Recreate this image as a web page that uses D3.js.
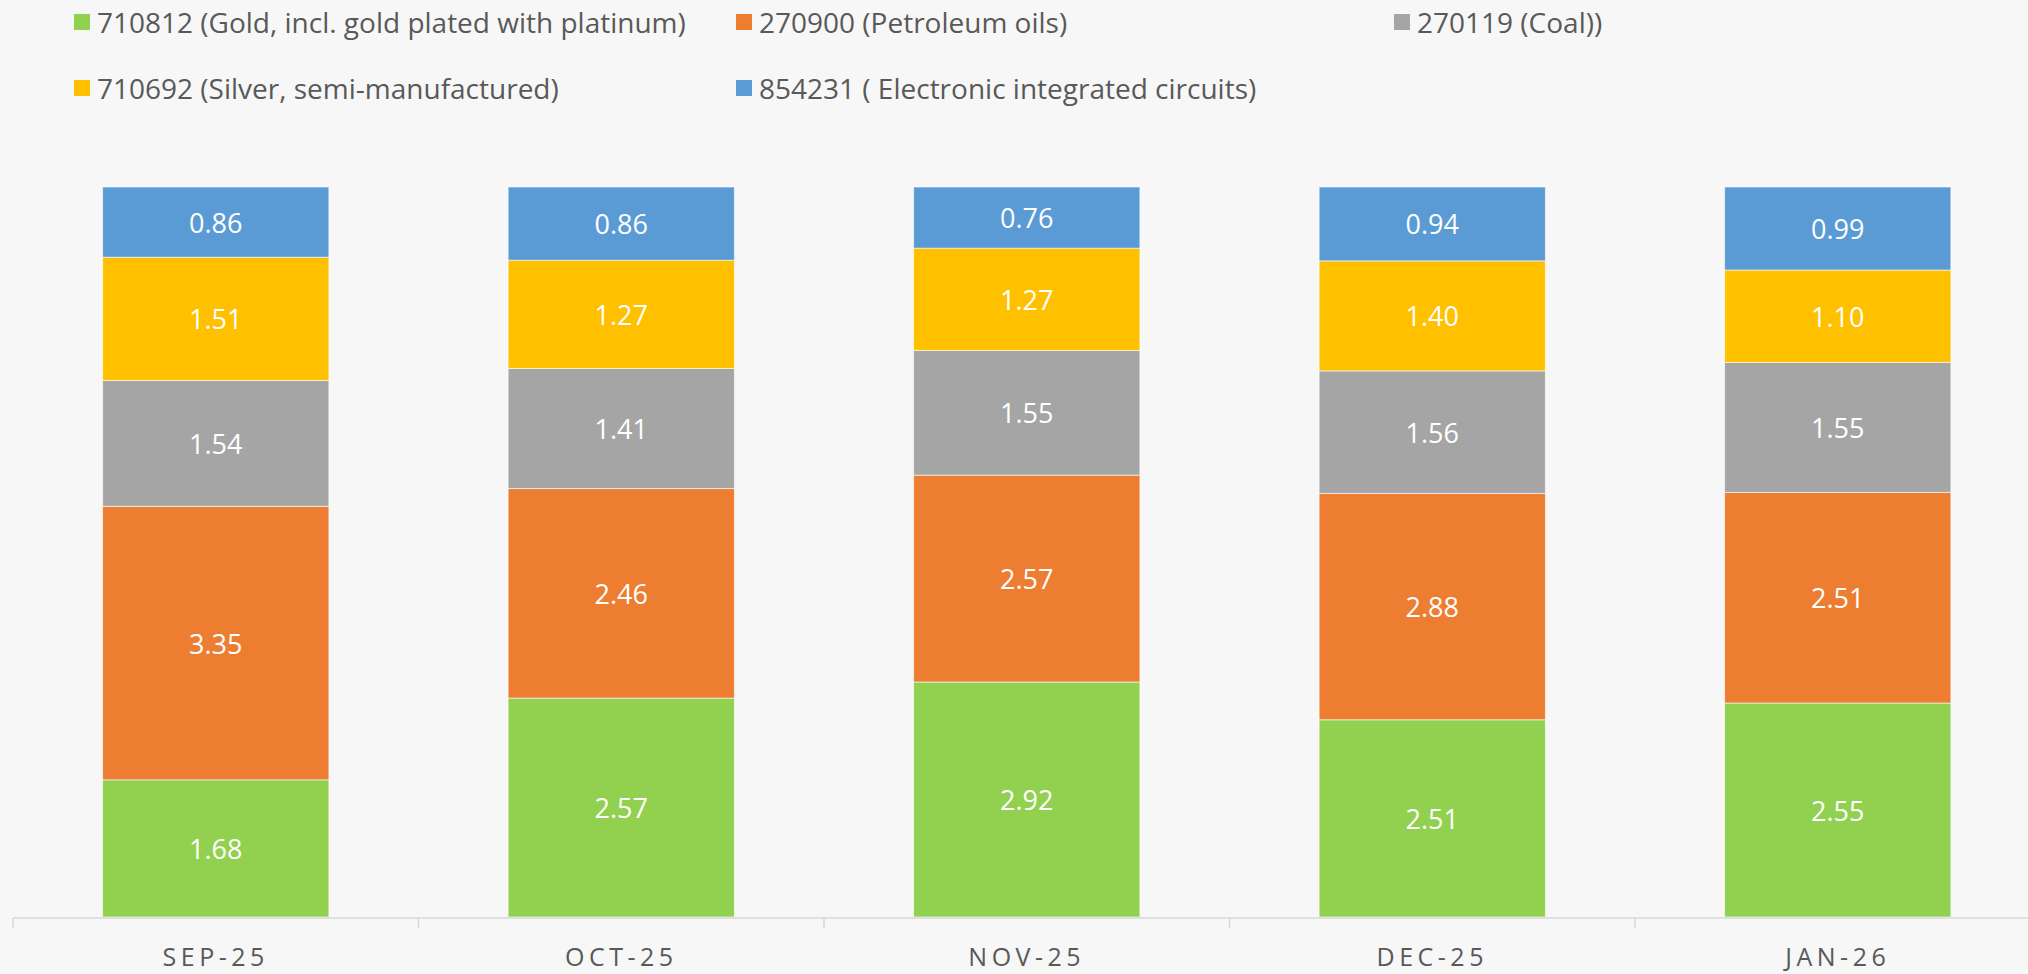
<!DOCTYPE html>
<html>
<head>
<meta charset="utf-8">
<script src="https://cdn.jsdelivr.net/npm/d3@7"></script>
<style>
  html, body { margin: 0; padding: 0; background: #f7f7f7; }
  svg { display: block; }
</style>
</head>
<body>
<svg width="2028" height="974"></svg>
<script>
// categories and series
const months = ['SEP-25', 'OCT-25', 'NOV-25', 'DEC-25', 'JAN-26'];
const seriesNames = [
  '710812 (Gold, incl. gold plated with platinum)',
  '270900 (Petroleum oils)',
  '270119 (Coal))',
  '710692 (Silver, semi-manufactured)',
  '854231 ( Electronic integrated circuits)'
];
const gold = [1.68, 2.57, 2.92, 2.51, 2.55];
const petroleum = [3.35, 2.46, 2.57, 2.88, 2.51];
const coal = [1.54, 1.41, 1.55, 1.56, 1.55];
const silver = [1.51, 1.27, 1.27, 1.40, 1.10];
const chips = [0.86, 0.86, 0.76, 0.94, 0.99];
const colors = ['#92d050', '#ed7d31', '#a5a5a5', '#ffc000', '#5b9bd5'];

const svg = d3.select('svg');
const W = 2028, H = 974;

// build rows for d3.stack
const values = [gold, petroleum, coal, silver, chips];
const rows = months.map((m, i) => {
  const r = { month: m };
  seriesNames.forEach((s, j) => { r[s] = values[j][i]; });
  return r;
});

const stack = d3.stack()
  .keys(seriesNames)
  .offset(d3.stackOffsetExpand);
const layers = stack(rows);

// scales
const x = d3.scaleBand()
  .domain(months)
  .range([13, 13 + 405.5 * 5])
  .paddingInner(0.442)
  .paddingOuter(0.221);
const y = d3.scaleLinear()
  .domain([0, 1])
  .range([917, 187]);

// bars
const g = svg.append('g');
const layer = g.selectAll('g.layer')
  .data(layers)
  .join('g')
  .attr('class', 'layer')
  .attr('fill', (d, i) => colors[i]);

layer.selectAll('rect')
  .data(d => d)
  .join('rect')
  .attr('x', d => x(d.data.month))
  .attr('y', d => y(d[1]))
  .attr('width', x.bandwidth())
  .attr('height', d => y(d[0]) - y(d[1]))
  .attr('stroke', '#ffffff')
  .attr('stroke-opacity', 0.6)
  .attr('stroke-width', 1);

// value labels
layers.forEach((L, j) => {
  g.selectAll('text.v' + j)
    .data(L)
    .join('text')
    .attr('class', 'v' + j)
    .attr('x', d => x(d.data.month) + x.bandwidth() / 2)
    .attr('y', d => (y(d[0]) + y(d[1])) / 2)
    .attr('text-anchor', 'middle')
    .attr('dominant-baseline', 'central')
    .attr('fill', '#ffffff')
    .style('font-family', '"Open Sans", sans-serif')
    .style('font-size', '27px')
    .text(d => d.data[L.key].toFixed(2));
});

// x axis: line + ticks at band edges
const axisY = 918;
svg.append('line')
  .attr('x1', 13).attr('x2', W)
  .attr('y1', axisY).attr('y2', axisY)
  .attr('stroke', '#d9d9d9')
  .attr('stroke-width', 1.5);

const edges = d3.range(months.length + 1).map(i => 13 + i * x.step());
svg.selectAll('line.tick')
  .data(edges)
  .join('line')
  .attr('class', 'tick')
  .attr('x1', d => d).attr('x2', d => d)
  .attr('y1', axisY).attr('y2', axisY + 10)
  .attr('stroke', '#d9d9d9')
  .attr('stroke-width', 1.5);

svg.selectAll('text.month')
  .data(months)
  .join('text')
  .attr('class', 'month')
  .attr('x', d => x(d) + x.bandwidth() / 2)
  .attr('y', 966)
  .attr('text-anchor', 'middle')
  .attr('fill', '#595959')
  .style('font-family', '"Open Sans", sans-serif')
  .style('font-size', '25px')
  .style('letter-spacing', '4.5px')
  .text(d => d);

// legend
const legendPos = [[74, 22], [736, 22], [1394, 22], [74, 88], [736, 88]];
const leg = svg.selectAll('g.leg')
  .data(seriesNames)
  .join('g')
  .attr('class', 'leg')
  .attr('transform', (d, i) => `translate(${legendPos[i][0]},${legendPos[i][1]})`);

leg.append('rect')
  .attr('x', 0).attr('y', -8)
  .attr('width', 16).attr('height', 16)
  .attr('fill', (d, i) => colors[i]);

leg.append('text')
  .attr('x', 23)
  .attr('y', 0)
  .attr('dominant-baseline', 'central')
  .attr('fill', '#595959')
  .style('font-family', '"Open Sans", sans-serif')
  .style('font-size', '28px')
  .text(d => d);
</script>
</body>
</html>
